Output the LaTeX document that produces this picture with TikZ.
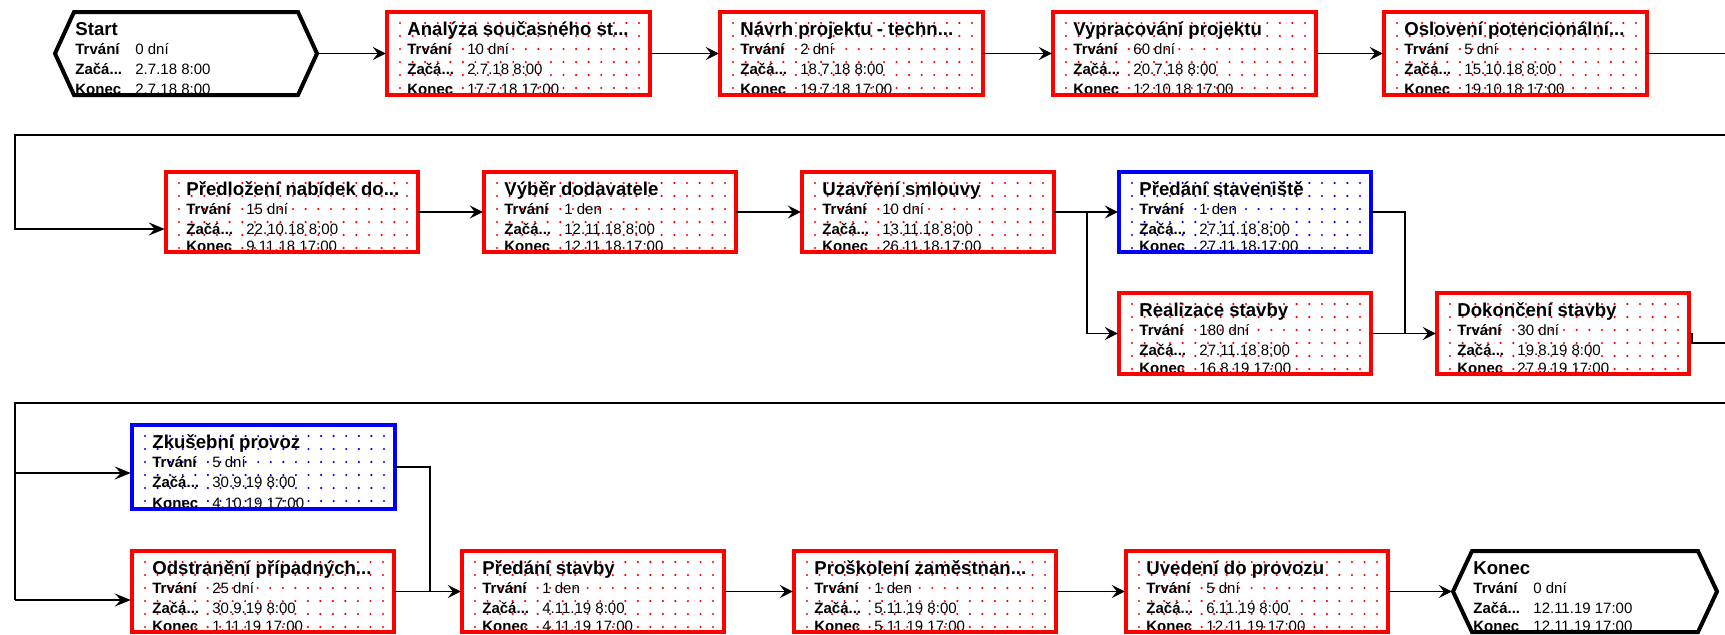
\documentclass[tikz,border=0pt]{standalone}
\usepackage{fontspec}
\setmainfont{Liberation Sans}
\usetikzlibrary{arrows.meta}

\definecolor{taskred}{RGB}{255,0,0}
\definecolor{taskblue}{RGB}{0,0,255}

\tikzset{
  framebox/.style={rectangle, fill=white, inner sep=0pt, outer sep=0pt, anchor=north west},
  tasktitle/.style={anchor=base west, inner sep=0pt, font=\fontsize{9.3}{11}\selectfont\bfseries},
  fieldlabel/.style={anchor=base west, inner sep=0pt, font=\fontsize{7.5}{9}\selectfont\bfseries},
  fieldvalue/.style={anchor=base west, inner sep=0pt, font=\fontsize{7.5}{9}\selectfont},
  link/.style={line width=0.65pt, shorten >=0.6pt, -{Stealth[length=6.5pt,width=6.5pt,inset=2.5pt]}},
  plainlink/.style={line width=0.65pt},
  wrapline/.style={line width=1pt},
  wraplink/.style={line width=1pt, shorten >=0.6pt, -{Stealth[length=8pt,width=6.5pt,inset=3pt]}},
}

% task box: name, colour, x, y (top left), title, duration, start, finish
% width and height are taken from \boxw and \boxh
\newcommand\taskbox[8]{%
  \node[framebox, minimum width=\boxw*0.5pt, minimum height=\boxh*0.5pt] (#1) at (#3,#4) {};
  \begin{scope}
    \clip (#1.north west) rectangle (#1.south east);
    \begin{scope}[shift={(#1.north west)}]
      \pgfmathtruncatemacro\ncol{round((\boxw-24)/12.8)}%
      \pgfmathsetmacro\dcol{(\boxw-24)/\ncol}%
      \foreach \i in {0,...,\ncol}{\foreach \j in {0,...,5}{%
        \fill[#2] (13+\i*\dcol,11+\j*13) circle[radius=0.6pt];}}
      \node[tasktitle] (#1-title) at (20,23) {#5};
      \node[fieldlabel] (#1-dl) at (20,42) {Trvání};
      \node[fieldvalue] (#1-dv) at (80,42) {#6};
      \node[fieldlabel] (#1-sl) at (20,62) {Začá...};
      \node[fieldvalue] (#1-sv) at (80,62) {#7};
      \node[fieldlabel] (#1-el) at (20,\boxh-1) {Konec};
      \node[fieldvalue] (#1-ev) at (80,\boxh-1) {#8};
    \end{scope}
  \end{scope}
  \draw[#2, line width=1.75pt] (#1.north west) rectangle (#1.south east);
}

% milestone hexagon: name, x, y (top left), title, date
\newcommand\milestone[5]{%
  \node[framebox, fill=none, minimum width=\boxw*0.5pt, minimum height=\boxh*0.5pt] (#1) at (#2,#3) {};
  \coordinate (#1-a) at ([xshift=9.5pt]#1.north west);
  \coordinate (#1-b) at ([xshift=-9.5pt]#1.north east);
  \coordinate (#1-c) at ([xshift=-9.5pt]#1.south east);
  \coordinate (#1-d) at ([xshift=9.5pt]#1.south west);
  \fill[white] (#1.west) -- (#1-a) -- (#1-b) -- (#1.east) -- (#1-c) -- (#1-d) -- cycle;
  \begin{scope}
    \clip (#1.west) -- (#1-a) -- (#1-b) -- (#1.east) -- (#1-c) -- (#1-d) -- cycle;
    \begin{scope}[shift={(#1.north west)}]
      \node[tasktitle] (#1-title) at (20,23) {#4};
      \node[fieldlabel] (#1-dl) at (20,42) {Trvání};
      \node[fieldvalue] (#1-dv) at (80,42) {0 dní};
      \node[fieldlabel] (#1-sl) at (20,62) {Začá...};
      \node[fieldvalue] (#1-sv) at (80,62) {#5};
      \node[fieldlabel] (#1-el) at (20,\boxh-1) {Konec};
      \node[fieldvalue] (#1-ev) at (80,\boxh-1) {#5};
    \end{scope}
  \end{scope}
  \draw[line width=2pt, line join=miter] (#1.west) -- (#1-a) -- (#1-b) -- (#1.east) -- (#1-c) -- (#1-d) -- cycle;
}

\begin{document}
\begin{tikzpicture}[x=0.5pt,y=-0.5pt]
\useasboundingbox (0,0) rectangle (1725,634);
\fill[white] (0,0) rectangle (1725,634);

% ---- first row
\def\boxw{262}\def\boxh{83}
\milestone{start}{55}{12}{Start}{2.7.18 8:00}
\def\boxw{263}
\taskbox{analyza}{taskred}{387}{12}{Analýza současného st...}{10 dní}{2.7.18 8:00}{17.7.18 17:00}
\taskbox{navrh}{taskred}{720}{12}{Návrh projektu - techn...}{2 dní}{18.7.18 8:00}{19.7.18 17:00}
\taskbox{vypracovani}{taskred}{1053}{12}{Vypracování projektu}{60 dní}{20.7.18 8:00}{12.10.18 17:00}
\taskbox{osloveni}{taskred}{1384}{12}{Oslovení potencionální...}{5 dní}{15.10.18 8:00}{19.10.18 17:00}

% ---- second row
\def\boxw{252}\def\boxh{80}
\taskbox{predlozeni}{taskred}{166}{172}{Předložení nabídek do...}{15 dní}{22.10.18 8:00}{9.11.18 17:00}
\taskbox{vyber}{taskred}{484}{172}{Výběr dodavatele}{1 den}{12.11.18 8:00}{12.11.18 17:00}
\taskbox{uzavreni}{taskred}{802}{172}{Uzavření smlouvy}{10 dní}{13.11.18 8:00}{26.11.18 17:00}
\taskbox{predanist}{taskblue}{1119}{172}{Předání staveniště}{1 den}{27.11.18 8:00}{27.11.18 17:00}
\def\boxh{81}
\taskbox{realizace}{taskred}{1119}{293}{Realizace stavby}{180 dní}{27.11.18 8:00}{16.8.19 17:00}
\taskbox{dokonceni}{taskred}{1437}{293}{Dokončení stavby}{30 dní}{19.8.19 8:00}{27.9.19 17:00}

% ---- third row
\def\boxw{263}\def\boxh{84}
\taskbox{zkusebni}{taskblue}{132}{425}{Zkušební provoz}{5 dní}{30.9.19 8:00}{4.10.19 17:00}
\def\boxw{262}\def\boxh{81}
\taskbox{odstraneni}{taskred}{132}{551}{Odstranění případných...}{25 dní}{30.9.19 8:00}{1.11.19 17:00}
\taskbox{predanistavby}{taskred}{462}{551}{Předání stavby}{1 den}{4.11.19 8:00}{4.11.19 17:00}
\taskbox{proskoleni}{taskred}{794}{551}{Proškolení zaměstnan...}{1 den}{5.11.19 8:00}{5.11.19 17:00}
\taskbox{uvedeni}{taskred}{1126}{551}{Uvedení do provozu}{5 dní}{6.11.19 8:00}{12.11.19 17:00}
\def\boxw{264}
\milestone{konec}{1453}{551}{Konec}{12.11.19 17:00}

% ---- links, first row
\draw[link] (start.east) -- (analyza.west);
\draw[link] (analyza.east) -- (navrh.west);
\draw[link] (navrh.east) -- (vypracovani.west);
\draw[link] (vypracovani.east) -- (osloveni.west);
\coordinate (edge1) at (1725,53.5);
\draw[plainlink] (osloveni.east) -- (edge1);

% ---- links, second row
\coordinate (wrap1r) at (1725,135);
\coordinate (wrap1l) at (15,135);
\coordinate (wrap1d) at (15,229);
\draw[wraplink] (wrap1r) -- (wrap1l) -- (wrap1d) -- (wrap1d -| predlozeni.west);
\draw[link] (predlozeni.east) -- (vyber.west);
\draw[link] (vyber.east) -- (uzavreni.west);
\coordinate (fork1) at (1087,212);
\draw[plainlink] (uzavreni.east) -- (fork1);
\draw[link] (fork1) -- (predanist.west);
\draw[link] (fork1) |- (realizace.west);
\coordinate (join1) at (1405,333.5);
\draw[plainlink] (predanist.east) -| (join1);
\draw[link] (realizace.east) -- (dokonceni.west);
\coordinate (edge2) at (1725,343);
\draw[plainlink] (dokonceni.east) -- ++(3,0) |- (edge2);

% ---- links, third row
\coordinate (wrap2r) at (1725,403);
\coordinate (wrap2l) at (15,403);
\coordinate (wrap2m) at (15,473);
\coordinate (wrap2d) at (15,600);
\draw[wrapline] (wrap2r) -- (wrap2l) -- (wrap2d);
\draw[wraplink] (wrap2m) -- (wrap2m -| zkusebni.west);
\draw[wraplink] (wrap2d) -- (wrap2d -| odstraneni.west);
\coordinate (join2) at (430,591.5);
\draw[plainlink] (zkusebni.east) -| (join2);
\draw[link] (odstraneni.east) -- (predanistavby.west);
\draw[link] (predanistavby.east) -- (proskoleni.west);
\draw[link] (proskoleni.east) -- (uvedeni.west);
\draw[link] (uvedeni.east) -- (konec.west);
\end{tikzpicture}
\end{document}
